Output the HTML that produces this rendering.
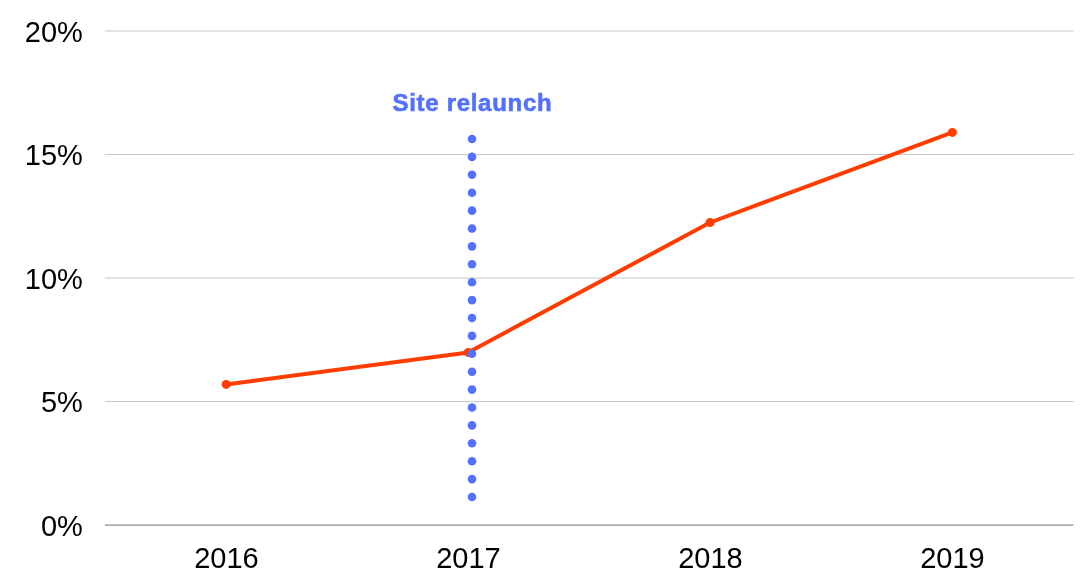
<!DOCTYPE html>
<html>
<head>
<meta charset="utf-8">
<style>
html,body{margin:0;padding:0;background:#fff;}
body{width:1083px;height:584px;overflow:hidden;}
svg{display:block;will-change:transform;}
.ax{font-family:"Liberation Sans",Arial,sans-serif;font-size:29px;fill:#000;}
.ann{font-family:"Liberation Sans",Arial,sans-serif;font-size:24px;font-weight:bold;fill:#5470ff;letter-spacing:0.7px;stroke:#5470ff;stroke-width:0.6px;}
</style>
</head>
<body>
<svg width="1083" height="584" viewBox="0 0 1083 584">
  <g stroke="#c6c6c6" stroke-width="1" fill="none">
    <line x1="105" y1="31" x2="1073.5" y2="31"/>
    <line x1="105" y1="154.5" x2="1073.5" y2="154.5"/>
    <line x1="105" y1="278" x2="1073.5" y2="278"/>
    <line x1="105" y1="401.5" x2="1073.5" y2="401.5"/>
  </g>
  <rect x="105" y="524" width="968.5" height="1" fill="#c4c4c4"/><rect x="105" y="525" width="968.5" height="1" fill="#aaaaaa"/>

  <g class="ax" text-anchor="end">
    <text x="82.8" y="42">20%</text>
    <text x="82.8" y="165">15%</text>
    <text x="82.8" y="289">10%</text>
    <text x="82.8" y="412">5%</text>
    <text x="82.8" y="536">0%</text>
  </g>
  <g class="ax" text-anchor="middle">
    <text x="226.4" y="568">2016</text>
    <text x="468.4" y="568">2017</text>
    <text x="710.4" y="568">2018</text>
    <text x="952.4" y="568">2019</text>
  </g>

  <g fill="#ff3d00">
    <polyline points="226.2,384.4 468.2,352.4 710.1,222.5 952.4,132.4" fill="none" stroke="#ff3d00" stroke-width="4" stroke-linejoin="round"/>
    <circle cx="226.2" cy="384.4" r="4.5"/>
    <circle cx="468.2" cy="352.4" r="4.5"/>
    <circle cx="710.1" cy="222.5" r="4.5"/>
    <circle cx="952.4" cy="132.4" r="4.5"/>
  </g>

  <g fill="#5470ff"><circle cx="472" cy="139.00" r="4.3"/><circle cx="472" cy="156.90" r="4.3"/><circle cx="472" cy="174.80" r="4.3"/><circle cx="472" cy="192.70" r="4.3"/><circle cx="472" cy="210.60" r="4.3"/><circle cx="472" cy="228.50" r="4.3"/><circle cx="472" cy="246.40" r="4.3"/><circle cx="472" cy="264.30" r="4.3"/><circle cx="472" cy="282.20" r="4.3"/><circle cx="472" cy="300.10" r="4.3"/><circle cx="472" cy="318.00" r="4.3"/><circle cx="472" cy="335.90" r="4.3"/><circle cx="472" cy="353.80" r="4.3"/><circle cx="472" cy="371.70" r="4.3"/><circle cx="472" cy="389.60" r="4.3"/><circle cx="472" cy="407.50" r="4.3"/><circle cx="472" cy="425.40" r="4.3"/><circle cx="472" cy="443.30" r="4.3"/><circle cx="472" cy="461.20" r="4.3"/><circle cx="472" cy="479.10" r="4.3"/><circle cx="472" cy="497.00" r="4.3"/></g>
  <text class="ann" x="472.4" y="111" text-anchor="middle">Site relaunch</text>
</svg>
</body>
</html>
